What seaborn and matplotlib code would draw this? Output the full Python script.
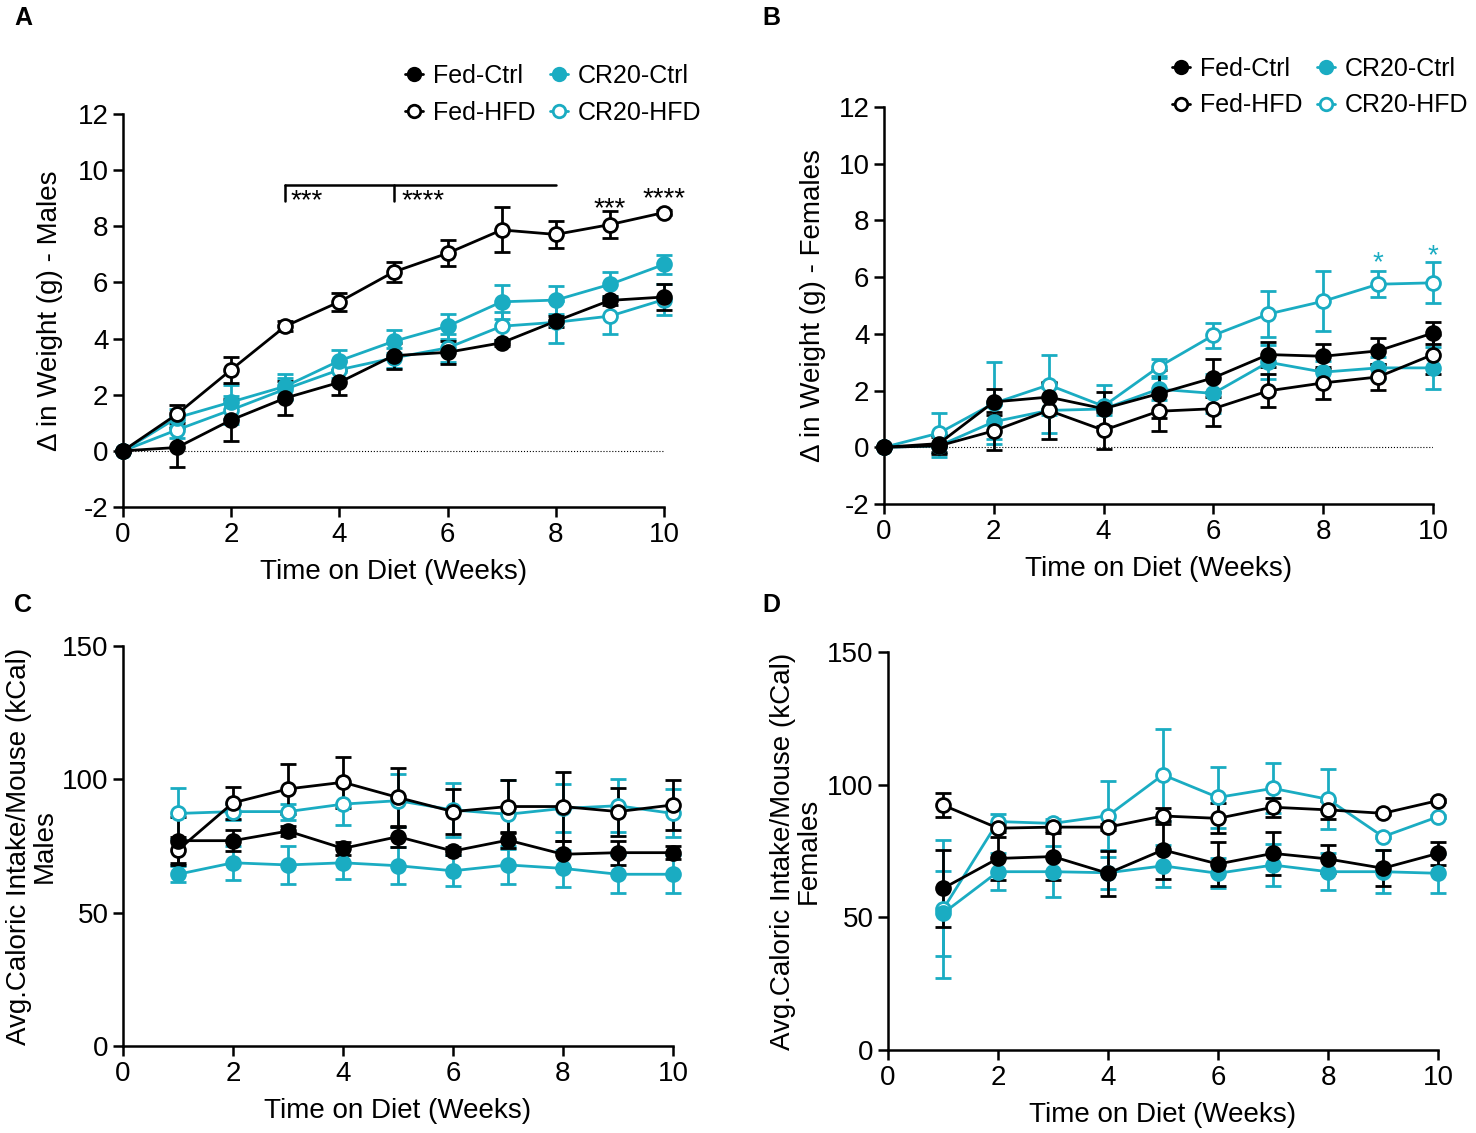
import numpy as np
import pandas as pd
import matplotlib
matplotlib.use('Agg')
import matplotlib.pyplot as plt
from matplotlib.lines import Line2D
import seaborn as sns

# ---- data ----
weeks_wt = [0, 1, 2, 3, 4, 5, 6, 7, 8, 9, 10]
weeks_cal = [1, 2, 3, 4, 5, 6, 7, 8, 9, 10]

# A: weight change, males
a_fed_ctrl = [0, 0.12, 1.10, 1.88, 2.44, 3.39, 3.51, 3.85, 4.62, 5.36, 5.48]
a_fed_ctrl_err = [0, 0.70, 0.75, 0.60, 0.45, 0.47, 0.40, 0.10, 0.20, 0.15, 0.45]
a_fed_hfd = [0, 1.31, 2.89, 4.44, 5.31, 6.37, 7.04, 7.87, 7.71, 8.06, 8.49]
a_fed_hfd_err = [0, 0.33, 0.46, 0.17, 0.33, 0.37, 0.46, 0.80, 0.48, 0.48, 0.10]
a_cr_ctrl = [0, 1.18, 1.74, 2.30, 3.21, 3.90, 4.44, 5.31, 5.37, 5.93, 6.64]
a_cr_ctrl_err = [0, 0.30, 0.60, 0.45, 0.40, 0.40, 0.45, 0.60, 0.50, 0.45, 0.35]
a_cr_hfd = [0, 0.75, 1.46, 2.20, 2.89, 3.31, 3.67, 4.44, 4.58, 4.80, 5.39]
a_cr_hfd_err = [0, 0.30, 0.50, 0.40, 0.30, 0.35, 0.50, 0.50, 0.75, 0.65, 0.55]

# B: weight change, females
b_fed_ctrl = [0, 0.13, 1.60, 1.77, 1.36, 1.89, 2.45, 3.27, 3.21, 3.40, 4.03]
b_fed_ctrl_err = [0, 0.30, 0.47, 0.50, 0.60, 0.85, 0.68, 0.44, 0.44, 0.47, 0.40]
b_fed_hfd = [0, 0.05, 0.58, 1.30, 0.60, 1.27, 1.36, 1.99, 2.27, 2.48, 3.27]
b_fed_hfd_err = [0, 0.30, 0.68, 1.00, 0.65, 0.70, 0.60, 0.58, 0.55, 0.47, 0.68]
b_cr_ctrl = [0, 0.05, 0.90, 1.30, 1.35, 2.05, 1.90, 3.00, 2.65, 2.80, 2.80]
b_cr_ctrl_err = [0, 0.40, 0.60, 0.80, 0.20, 0.40, 0.70, 0.60, 0.40, 0.40, 0.75]
b_cr_hfd = [0, 0.50, 1.55, 2.20, 1.45, 2.83, 3.95, 4.70, 5.15, 5.75, 5.80]
b_cr_hfd_err = [0, 0.70, 1.45, 1.05, 0.75, 0.30, 0.45, 0.80, 1.05, 0.45, 0.72]

# C: caloric intake, males
c_fed_ctrl = [77.0, 77.0, 80.6, 74.1, 78.5, 73.1, 77.2, 71.9, 72.5, 72.5]
c_fed_ctrl_err = [9.0, 4.0, 2.0, 2.5, 4.0, 1.5, 3.0, 5.0, 4.5, 2.5]
c_fed_hfd = [73.5, 91.2, 96.4, 98.9, 93.2, 87.9, 89.8, 89.8, 87.9, 90.4]
c_fed_hfd_err = [5.0, 6.0, 9.5, 9.5, 11.0, 8.5, 10.0, 13.0, 9.0, 9.3]
c_cr_ctrl = [64.4, 68.7, 67.9, 68.7, 67.6, 65.7, 67.9, 66.6, 64.4, 64.4]
c_cr_ctrl_err = [3.0, 6.4, 7.0, 6.2, 7.0, 5.8, 7.0, 7.0, 7.2, 7.2]
c_cr_hfd = [87.2, 87.9, 87.9, 90.7, 92.0, 88.5, 86.9, 89.1, 90.1, 87.2]
c_cr_hfd_err = [9.5, 3.0, 3.0, 8.0, 10.0, 10.0, 13.0, 9.0, 10.0, 9.0]

# D: caloric intake, females
d_fed_ctrl = [60.9, 72.2, 72.9, 66.6, 75.4, 70.1, 74.1, 72.0, 68.5, 74.1]
d_fed_ctrl_err = [14.5, 8.0, 9.0, 8.5, 11.0, 8.4, 8.2, 5.3, 6.8, 4.4]
d_fed_hfd = [92.3, 83.6, 84.0, 84.0, 88.2, 87.3, 91.5, 90.5, 89.2, 94.0]
d_fed_hfd_err = [4.5, 1.5, 1.5, 1.0, 3.0, 5.7, 3.6, 3.5, 0.5, 0.5]
d_cr_ctrl = [51.5, 67.2, 67.2, 66.8, 69.4, 66.6, 69.7, 67.2, 67.2, 66.6]
d_cr_ctrl_err = [16.0, 7.0, 9.5, 6.0, 8.0, 5.7, 8.0, 7.0, 8.0, 7.4]
d_cr_hfd = [53.0, 86.1, 85.4, 88.3, 103.7, 95.2, 98.6, 94.5, 80.4, 87.9]
d_cr_hfd_err = [26.0, 3.0, 1.5, 13.0, 17.3, 11.5, 9.4, 11.3, 0.5, 0.5]

groups = ['Fed-Ctrl', 'Fed-HFD', 'CR20-Ctrl', 'CR20-HFD']

BLACK = '#000000'
CYAN = '#1AACC2'
styles = {
    'Fed-Ctrl': (BLACK, BLACK),
    'Fed-HFD': (BLACK, 'white'),
    'CR20-Ctrl': (CYAN, CYAN),
    'CR20-HFD': (CYAN, 'white'),
}

sns.set_theme(style='ticks')
plt.rcParams['font.family'] = ['Liberation Sans', 'DejaVu Sans']
plt.rcParams['axes.linewidth'] = 1.8
plt.rcParams['axes.edgecolor'] = 'black'
plt.rcParams['axes.labelcolor'] = 'black'
plt.rcParams['xtick.color'] = 'black'
plt.rcParams['ytick.color'] = 'black'
plt.rcParams['text.color'] = 'black'
plt.rcParams['axes.unicode_minus'] = False


def draw_panel(ax, x, series):
    # error bars first, then lines/markers on top
    for name in ['CR20-HFD', 'CR20-Ctrl', 'Fed-HFD', 'Fed-Ctrl']:
        vals, err = series[name]
        col, face = styles[name]
        ax.errorbar(x, vals, yerr=err, fmt='none', ecolor=col, elinewidth=2,
                    capsize=6, capthick=2, clip_on=False, zorder=2)
    for name in ['CR20-HFD', 'CR20-Ctrl', 'Fed-HFD', 'Fed-Ctrl']:
        vals, err = series[name]
        col, face = styles[name]
        df = pd.DataFrame({'week': x, 'val': vals})
        sns.lineplot(data=df, x='week', y='val', ax=ax, color=col, marker='o',
                     markersize=10, markerfacecolor=face, markeredgecolor=col,
                     markeredgewidth=2, linewidth=2, clip_on=False, zorder=3)
    ax.set_xlim(0, 10)
    ax.set_xticks([0, 2, 4, 6, 8, 10])
    ax.set_xlabel('Time on Diet (Weeks)', fontsize=20, labelpad=8)
    ax.tick_params(axis='both', labelsize=20, width=1.8, length=7, color='black',
                   labelcolor='black')
    sns.despine(ax=ax)


fig = plt.figure(figsize=(14.76, 11.33), dpi=100)
W, H = 1476, 1133


def add_ax(left, top, right, bottom):
    return fig.add_axes([left / W, 1 - bottom / H, (right - left) / W, (bottom - top) / H])


# Panel A
axA = add_ax(123, 114, 664, 507)
draw_panel(axA, weeks_wt, {
    'Fed-Ctrl': (a_fed_ctrl, a_fed_ctrl_err), 'Fed-HFD': (a_fed_hfd, a_fed_hfd_err),
    'CR20-Ctrl': (a_cr_ctrl, a_cr_ctrl_err), 'CR20-HFD': (a_cr_hfd, a_cr_hfd_err)})
axA.set_ylim(-2, 12)
axA.set_yticks(range(-2, 13, 2))
axA.axhline(0, color='black', lw=0.8, ls=':', zorder=1)
axA.set_ylabel('Δ in Weight (g) - Males', fontsize=20)
axA.yaxis.set_label_coords(-0.111, 0.5)
axA.plot([3, 8], [9.47, 9.47], color='black', lw=1.8)
axA.plot([3, 3], [9.47, 8.9], color='black', lw=1.8)
axA.plot([5, 5], [9.47, 8.9], color='black', lw=1.8)
axA.text(3.1, 8.65, '***', fontsize=20, ha='left', va='baseline')
axA.text(5.15, 8.65, '****', fontsize=20, ha='left', va='baseline')
axA.text(9.0, 8.35, '***', fontsize=20, ha='center', va='baseline')
axA.text(10.0, 8.7, '****', fontsize=20, ha='center', va='baseline')

# Panel B
axB = add_ax(884, 107, 1433, 504)
draw_panel(axB, weeks_wt, {
    'Fed-Ctrl': (b_fed_ctrl, b_fed_ctrl_err), 'Fed-HFD': (b_fed_hfd, b_fed_hfd_err),
    'CR20-Ctrl': (b_cr_ctrl, b_cr_ctrl_err), 'CR20-HFD': (b_cr_hfd, b_cr_hfd_err)})
axB.set_ylim(-2, 12)
axB.set_yticks(range(-2, 13, 2))
axB.axhline(0, color='black', lw=0.8, ls=':', zorder=1)
axB.set_ylabel('Δ in Weight (g) - Females', fontsize=20)
axB.yaxis.set_label_coords(-0.106, 0.5)
axB.text(9.0, 6.25, '*', fontsize=20, ha='center', va='baseline', color=CYAN)
axB.text(10.0, 6.5, '*', fontsize=20, ha='center', va='baseline', color=CYAN)

# Panel C
axC = add_ax(123, 646, 673, 1046)
draw_panel(axC, weeks_cal, {
    'Fed-Ctrl': (c_fed_ctrl, c_fed_ctrl_err), 'Fed-HFD': (c_fed_hfd, c_fed_hfd_err),
    'CR20-Ctrl': (c_cr_ctrl, c_cr_ctrl_err), 'CR20-HFD': (c_cr_hfd, c_cr_hfd_err)})
axC.set_ylim(0, 150)
axC.set_yticks([0, 50, 100, 150])
axC.set_ylabel('Avg.Caloric Intake/Mouse (kCal)\nMales', fontsize=20, linespacing=1.0)
axC.yaxis.set_label_coords(-0.118, 0.5)

# Panel D
axD = add_ax(888, 652, 1438, 1050)
draw_panel(axD, weeks_cal, {
    'Fed-Ctrl': (d_fed_ctrl, d_fed_ctrl_err), 'Fed-HFD': (d_fed_hfd, d_fed_hfd_err),
    'CR20-Ctrl': (d_cr_ctrl, d_cr_ctrl_err), 'CR20-HFD': (d_cr_hfd, d_cr_hfd_err)})
axD.set_ylim(0, 150)
axD.set_yticks([0, 50, 100, 150])
axD.set_ylabel('Avg.Caloric Intake/Mouse (kCal)\nFemales', fontsize=20, linespacing=1.0)
axD.yaxis.set_label_coords(-0.12, 0.5)

# legends
handles = []
for name in groups:
    col, face = styles[name]
    handles.append(Line2D([0], [0], color=col, marker='o', markersize=9,
                          markerfacecolor=face, markeredgecolor=col,
                          markeredgewidth=2, linewidth=2))
for pos in [(405, 64), (1172, 57)]:
    fig.legend(handles, groups, loc='upper left',
               bbox_to_anchor=(pos[0] / W, 1 - pos[1] / H), ncol=2, frameon=False,
               fontsize=18, handlelength=0.7, handletextpad=0.4, columnspacing=0.6,
               labelspacing=0.5, borderpad=0, borderaxespad=0)

# panel letters
for lab, (px, py) in zip('ABCD', [(14, 18), (762, 18), (14, 605), (762, 605)]):
    fig.text(px / W, 1 - py / H, lab, fontsize=18, fontweight='bold', va='center', ha='left')

fig.savefig('out.png', dpi=100)
